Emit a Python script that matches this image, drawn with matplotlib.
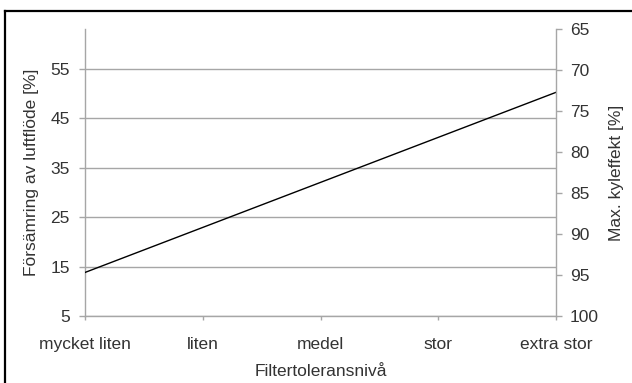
import matplotlib
matplotlib.use("Agg")
import matplotlib.pyplot as plt
from matplotlib.lines import Line2D

# data
levels = ["mycket liten", "liten", "medel", "stor", "extra stor"]
decline = [13.8, 22.9, 32.0, 41.1, 50.2]      # Försämring av luftflöde [%]
left_ticks = [5, 15, 25, 35, 45, 55]
right_ticks = [65, 70, 75, 80, 85, 90, 95, 100]

GRID = "#a6a6a6"
TXT = "#333333"
plt.rcParams.update({
    "font.family": ["Liberation Sans", "DejaVu Sans"],
    "font.size": 12.5,
    "text.color": TXT, "axes.labelcolor": TXT,
    "xtick.color": GRID, "ytick.color": GRID,
    "xtick.labelcolor": TXT, "ytick.labelcolor": TXT,
})

W, H = 632, 383
fig = plt.figure(figsize=(W / 100, H / 100), dpi=100)
# outer black frame: only top and left edges are inside the image
fx, fy = 4.5 / W, 1 - 10.5 / H
fig.add_artist(Line2D([fx, 1], [fy, fy], transform=fig.transFigure,
                      color="black", lw=1.6))
fig.add_artist(Line2D([fx, fx], [0, fy], transform=fig.transFigure,
                      color="black", lw=1.6))

ax = fig.add_axes([85 / W, (H - 316) / H, (556 - 85) / W, (316 - 29) / H])
x = list(range(len(levels)))
ax.plot(x, decline, color="black", lw=1.0, zorder=3)
ax.set_xlim(0, len(levels) - 1)
ax.set_ylim(5, 63)
ax.set_yticks(left_ticks)
ax.set_xticks(x)
ax.set_xticklabels(levels)
ax.yaxis.grid(True, color=GRID, lw=1.0)
ax.set_axisbelow(True)
for s in ["top", "right"]:
    ax.spines[s].set_visible(False)
for s in ["left", "bottom"]:
    ax.spines[s].set_color(GRID)
    ax.spines[s].set_linewidth(1.0)
ax.tick_params(axis="y", length=4, width=1.0, pad=7)
ax.tick_params(axis="x", length=3, width=1.0, pad=12)
ax.set_ylabel("Försämring av luftflöde [%]", labelpad=8)
ax.set_xlabel("Filtertoleransnivå", labelpad=9)

ax2 = ax.twinx()
ax2.set_ylim(100, 65)
ax2.set_yticks(right_ticks)
for s in ["top", "left", "bottom"]:
    ax2.spines[s].set_visible(False)
ax2.spines["right"].set_color(GRID)
ax2.spines["right"].set_linewidth(1.0)
ax2.tick_params(axis="y", length=4, width=1.0, pad=6)
ax2.set_ylabel("Max. kyleffekt [%]", labelpad=7)

fig.savefig("out.png", dpi=100)
